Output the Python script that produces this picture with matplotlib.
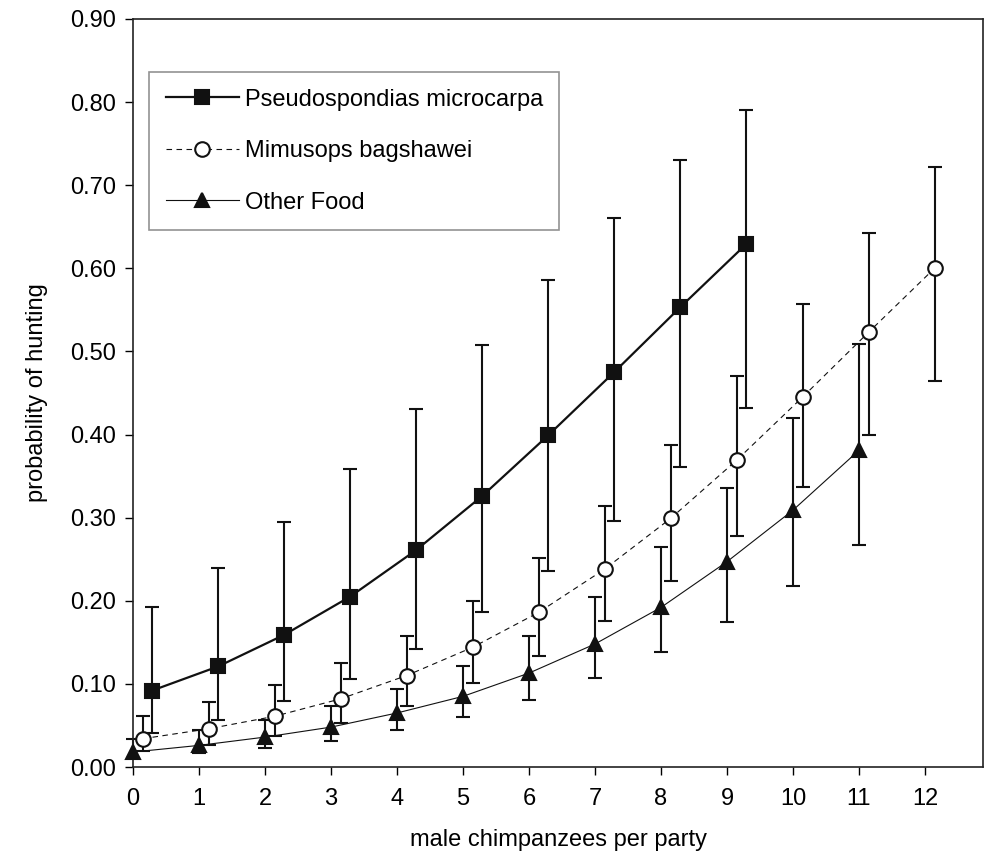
import numpy as np
import matplotlib
matplotlib.use("Agg")
import matplotlib.pyplot as plt
from matplotlib.ticker import FormatStrFormatter

plt.rcParams["font.family"] = ["Liberation Sans", "DejaVu Sans"]

# males per party for each series
pseudo_x = np.arange(0, 10)
mimu_x = np.arange(0, 13)
other_x = np.arange(0, 12)

pseudo_y = [0.092, 0.121, 0.159, 0.205, 0.261, 0.326, 0.399, 0.475, 0.553, 0.629]
pseudo_lo = [0.041, 0.057, 0.079, 0.106, 0.142, 0.186, 0.236, 0.296, 0.361, 0.432]
pseudo_hi = [0.192, 0.239, 0.295, 0.359, 0.431, 0.508, 0.586, 0.660, 0.730, 0.791]

mimu_y = [0.034, 0.046, 0.061, 0.082, 0.110, 0.144, 0.186, 0.238, 0.299, 0.369, 0.445, 0.523, 0.600]
mimu_lo = [0.019, 0.027, 0.037, 0.053, 0.073, 0.101, 0.134, 0.176, 0.224, 0.278, 0.337, 0.400, 0.464]
mimu_hi = [0.061, 0.078, 0.099, 0.125, 0.158, 0.200, 0.251, 0.314, 0.388, 0.471, 0.557, 0.643, 0.722]

other_y = [0.018, 0.026, 0.036, 0.048, 0.065, 0.085, 0.113, 0.148, 0.192, 0.247, 0.309, 0.381]
other_lo = [0.011, 0.017, 0.023, 0.031, 0.044, 0.060, 0.081, 0.107, 0.138, 0.175, 0.218, 0.267]
other_hi = [0.034, 0.044, 0.057, 0.073, 0.094, 0.122, 0.158, 0.205, 0.265, 0.336, 0.420, 0.509]

labels = ["Pseudospondias microcarpa", "Mimusops bagshawei", "Other Food"]

fig = plt.figure(figsize=(9.84, 8.51), dpi=100)
ax = fig.add_axes([0.1352, 0.0987, 0.8638, 0.8790])


def draw(x, y, lo, hi, offset, label, marker, mfc, ls, lw, ms):
    y = np.array(y)
    err = [y - np.array(lo), np.array(hi) - y]
    xs = x + offset
    ax.errorbar(xs, y, yerr=err, fmt="none", ecolor="#111111", elinewidth=1.5,
                capsize=5, capthick=1.5, zorder=2, clip_on=False)
    ax.plot(xs, y, color="#111111", ls=ls, lw=lw, marker=marker, ms=ms,
            mfc=mfc, mec="#111111", mew=1.5, label=label, zorder=3, clip_on=False)


draw(pseudo_x, pseudo_y, pseudo_lo, pseudo_hi, 0.29, labels[0], "s", "#111111", "-", 1.6, 9.5)
draw(mimu_x, mimu_y, mimu_lo, mimu_hi, 0.145, labels[1], "o", "white", (0, (5, 4)), 0.8, 10.5)
draw(other_x, other_y, other_lo, other_hi, 0.0, labels[2], "^", "#111111", "-", 0.8, 9.5)

ax.set_xlim(0, 12.88)
ax.set_ylim(0, 0.9)
ax.set_xticks(range(0, 13))
ax.set_yticks(np.arange(0, 0.91, 0.1))
ax.yaxis.set_major_formatter(FormatStrFormatter("%.2f"))
ax.tick_params(direction="out", length=6, width=1, labelsize=17, pad=6)
ax.tick_params(axis="x", pad=9)
for s in ax.spines.values():
    s.set_linewidth(1.2)
    s.set_color("#222222")

ax.set_xlabel("male chimpanzees per party", fontsize=17, labelpad=14)
ax.set_ylabel("probability of hunting", fontsize=17, labelpad=16)

leg = ax.legend(loc="upper left", bbox_to_anchor=(0.0188, 0.929), borderaxespad=0,
                fontsize=17, frameon=True, fancybox=False, handlelength=3.1,
                handletextpad=0.25, labelspacing=1.25, borderpad=0.7)
leg.get_frame().set_edgecolor("#777777")
leg.get_frame().set_linewidth(1.2)

fig.savefig("out.png", dpi=100)
